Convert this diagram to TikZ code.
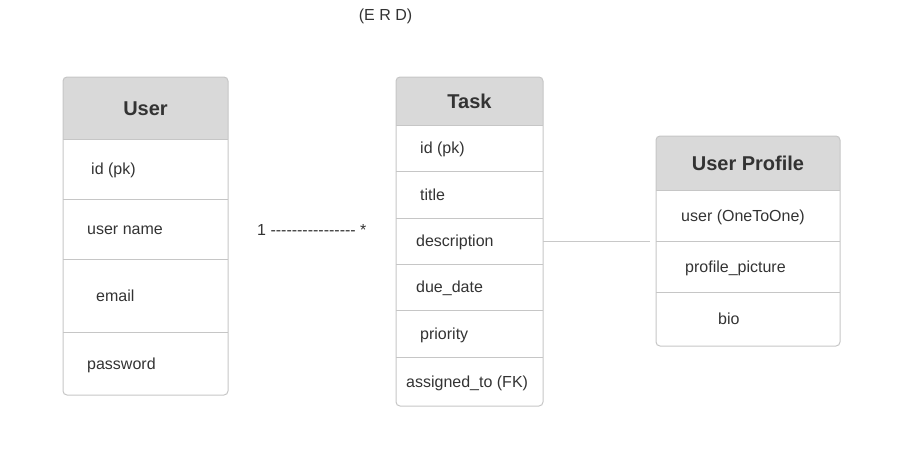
\documentclass[tikz,border=0pt]{standalone}
\usepackage{fontspec}
\setmainfont{Liberation Sans}
\usepackage{xcolor}
\usepackage{tikz}
\usetikzlibrary{positioning,backgrounds}
\definecolor{ERInk}{HTML}{333333}
\definecolor{ERHead}{HTML}{D9D9D9}
\definecolor{ERLine}{HTML}{C6C6C6}
\definecolor{ERLink}{HTML}{C8C8C8}
\newcommand{\dashrun}{\foreach \k in {1,...,16}{-\kern0pt}}

\begin{document}
\begin{tikzpicture}[x=1pt,y=-1pt,
  hdr/.style={minimum height=#1,inner sep=0pt,outer sep=0pt,text=ERInk,
    font=\fontsize{20}{24}\selectfont\bfseries,text height=14.5pt,text depth=0pt},
  cell/.style={minimum height=#1,inner sep=0pt,outer sep=0pt},
  fld/.style={anchor=west,minimum width=0pt,inner sep=0pt,text=ERInk,
    font=\fontsize{16}{19}\selectfont,text height=11.5pt,text depth=0pt},
  frame/.style={draw=ERLine,line width=1pt,rounded corners=4pt},
  sep/.style={draw=ERLine,line width=1pt},
  link/.style={draw=ERLink,line width=1pt}]
\path[use as bounding box] (0,0) rectangle (905,461);
\node[fld,anchor=center] (erd) at (385.5,15) {(E R D)};
\begin{scope}[nodes={minimum width=165}]
\node[hdr=62] (uh) at (145.5,108) {User};
\node[cell=60,below=0pt of uh] (u1) {};
\node[cell=60,below=0pt of u1] (u2) {};
\node[cell=73,below=0pt of u2] (u3) {};
\node[cell=63,below=0pt of u3] (u4) {};
\end{scope}
\node[fld,right=28pt of u1.west] (u1t) {id (pk)};
\node[fld,right=24pt of u2.west] (u2t) {user name};
\node[fld,right=33pt of u3.west] (u3t) {email};
\node[fld,right=24pt of u4.west] (u4t) {password};
\begin{scope}[nodes={minimum width=147}]
\node[hdr=48] (th) at (469.5,101) {Task};
\node[cell=46,below=0pt of th] (t1) {};
\node[cell=47,below=0pt of t1] (t2) {};
\node[cell=46,below=0pt of t2] (t3) {};
\node[cell=46,below=0pt of t3] (t4) {};
\node[cell=47,below=0pt of t4] (t5) {};
\node[cell=49,below=0pt of t5] (t6) {};
\end{scope}
\node[fld,right=24pt of t1.west] (t1t) {id (pk)};
\node[fld,right=24pt of t2.west] (t2t) {title};
\node[fld,right=20pt of t3.west] (t3t) {description};
\node[fld,right=20pt of t4.west] (t4t) {due\_date};
\node[fld,right=24pt of t5.west] (t5t) {priority};
\node[fld,right=10pt of t6.west] (t6t) {assigned\_to (FK)};
\begin{scope}[nodes={minimum width=184}]
\node[hdr=54] (ph) at (748,163) {User Profile};
\node[cell=51,below=0pt of ph] (p1) {};
\node[cell=51,below=0pt of p1] (p2) {};
\node[cell=54,below=0pt of p2] (p3) {};
\end{scope}
\node[fld,right=25pt of p1.west] (p1t) {user (OneToOne)};
\node[fld,right=29pt of p2.west] (p2t) {profile\_picture};
\node[fld,right=62pt of p3.west] (p3t) {bio};
\begin{scope}[on background layer]
\foreach \h in {uh,th,ph}
  \fill[ERHead,rounded corners=4pt] (\h.south west) |- (\h.north) -| (\h.south east);
\end{scope}
\foreach \c in {uh,u1,u2,u3,th,t1,t2,t3,t4,t5,ph,p1,p2}
  \draw[sep] (\c.south west) -- (\c.south east);
\draw[frame] (uh.north west) rectangle (u4.south east);
\draw[frame] (th.north west) rectangle (t6.south east);
\draw[frame] (ph.north west) rectangle (p3.south east);
\node[fld] (card) at (257,230) {1 \dashrun{} *};
\coordinate (tlink) at (650,241);
\draw[link] (t3.east) -- (tlink);
\end{tikzpicture}
\end{document}
